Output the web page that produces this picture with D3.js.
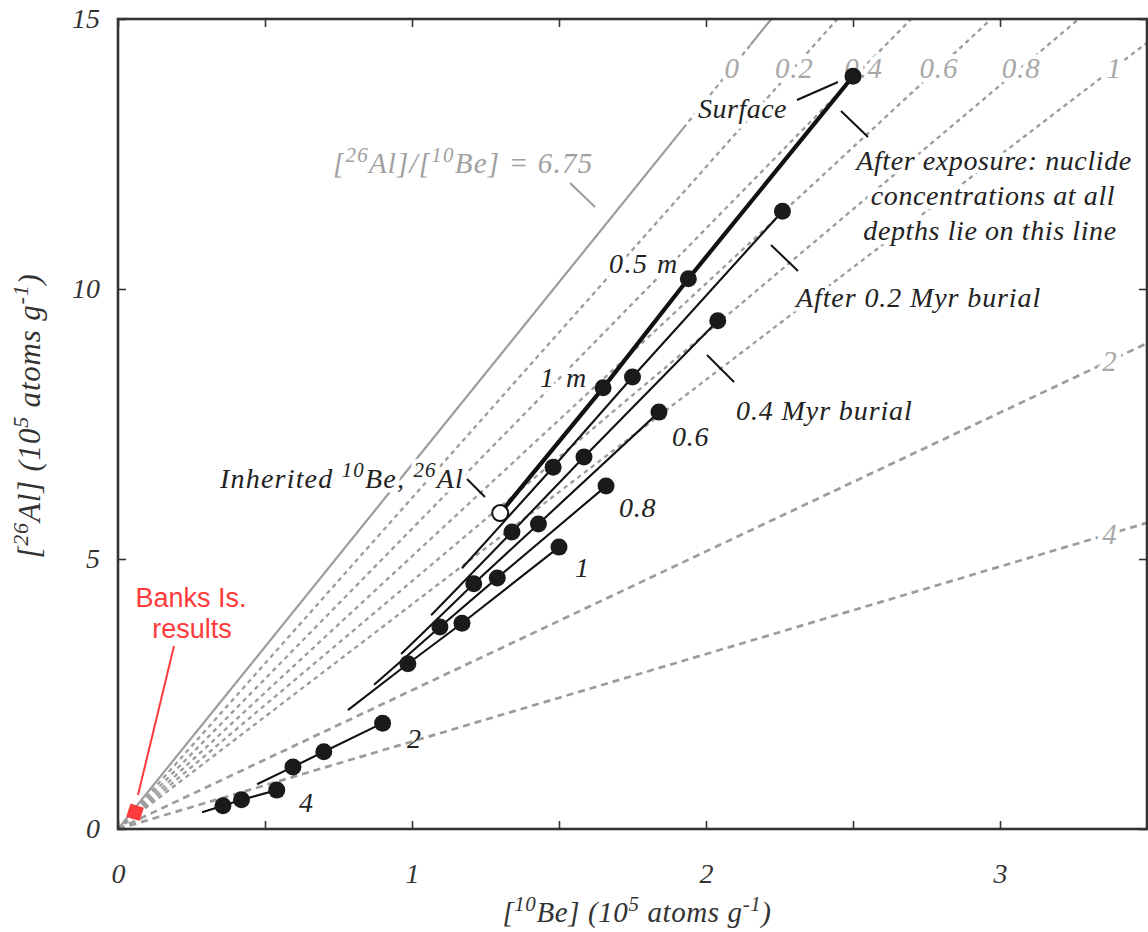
<!DOCTYPE html>
<html><head><meta charset="utf-8">
<script src="https://cdn.jsdelivr.net/npm/d3@7"></script>
<style>body{margin:0;background:#fff}</style>
</head><body><svg id="c" width="1148" height="932"></svg>
<script>
// ---------- data ----------
const xTicks = [0, 0.5, 1, 1.5, 2, 2.5, 3];
const xTickLabels = ["0", "", "1", "", "2", "", "3"];
const yTicks = [0, 5, 10, 15];
const yTickLabels = ["0", "5", "10", "15"];

// burial isochrons: [26Al]/[10Be] ratio after burial of t Myr
const isoLabels = ["0", "0.2", "0.4", "0.6", "0.8", "1", "2", "4"];
const isoRatios = [6.75, 6.13, 5.56, 5.05, 4.59, 4.16, 2.57, 1.62];

// depth profiles: after exposure, then after burial of t Myr
const profileLabels = ["exposure", "0.2", "0.4", "0.6", "0.8", "1", "2", "4"];
const beSurface = [2.50, 2.26, 2.04, 1.84, 1.66, 1.50, 0.90, 0.54];
const alSurface = [13.94, 11.44, 9.41, 7.72, 6.35, 5.22, 1.96, 0.72];
const beHalfM   = [1.94, 1.75, 1.585, 1.43, 1.29, 1.17, 0.70, 0.42];
const alHalfM   = [10.19, 8.37, 6.89, 5.65, 4.65, 3.81, 1.43, 0.54];
const beOneM    = [1.65, 1.48, 1.34, 1.21, 1.095, 0.986, 0.595, 0.357];
const alOneM    = [8.17, 6.70, 5.50, 4.54, 3.74, 3.06, 1.15, 0.43];
const beInherit = [1.30, 1.17, 1.065, 0.963, 0.871, 0.782, 0.473, 0.286];
const alInherit = [5.85, 4.83, 3.96, 3.24, 2.67, 2.20, 0.83, 0.31];

const banksBe = [0.058];
const banksAl = [0.31];

// ---------- setup ----------
const svg = d3.select("#c");
const x = d3.scaleLinear().domain([0, 3.5]).range([118, 1147]);
const y = d3.scaleLinear().domain([0, 15]).range([829, 19]);
const SERIF = "'Liberation Serif','Times New Roman',serif";
const SANS = "'Liberation Sans', Arial, sans-serif";
const GRAY = "#9c9c9c";

svg.append("defs").append("clipPath").attr("id", "clip")
  .append("rect").attr("x", 118).attr("y", 19).attr("width", 1029).attr("height", 810);
const isoLayer = svg.append("g").attr("clip-path", "url(#clip)");
const isoTextLayer = svg.append("g");
const annoLayer = svg.append("g");
const profLayer = svg.append("g").attr("clip-path", "url(#clip)");
const topLayer = svg.append("g");

function rich(sel, parts, supSize, shift) {
  parts.forEach(p => {
    if (p[1]) {
      sel.append("tspan").attr("dy", -shift).attr("font-size", supSize).text(p[0]);
    } else {
      const t = sel.append("tspan").text(p[0]);
      if (p[2]) t.attr("dy", shift);
    }
  });
}
function halo(sel, w) {
  return sel.attr("stroke", "#fff").attr("stroke-width", w)
    .attr("stroke-linejoin", "round").attr("paint-order", "stroke");
}

// ---------- isochrons ----------
const line = d3.line().x(d => x(d[0])).y(d => y(d[1]));
isoRatios.forEach((r, i) => {
  const xe = Math.min(3.5, 15 / r);
  const big = i >= 6;
  if (i === 0) {
    isoLayer.append("path").attr("d", line([[0, 0], [12.98 / r, 12.98]]))
      .attr("stroke", GRAY).attr("stroke-width", 2.2).attr("fill", "none");
    isoLayer.append("path").attr("d", line([[14.52 / r, 14.52], [xe, xe * r]]))
      .attr("stroke", GRAY).attr("stroke-width", 2.2).attr("fill", "none");
    isoLayer.append("path").attr("d", line([[12.98 / r, 12.98], [14.52 / r, 14.52]]))
      .attr("stroke", GRAY).attr("stroke-width", 2.2).attr("stroke-dasharray", "4.5,4").attr("fill", "none");
  } else {
    isoLayer.append("path").attr("d", line([[0, 0], [xe, xe * r]]))
      .attr("stroke", GRAY).attr("stroke-width", big ? 2.7 : 2.3)
      .attr("stroke-dasharray", big ? "7,5" : "4.5,4").attr("fill", "none");
  }
});
isoRatios.forEach((r, i) => {
  let lx, ly;
  if (i < 6) { ly = 14.1; lx = ly / r; }
  else { lx = 3.374; ly = lx * r; }
  halo(isoTextLayer.append("text"), 10)
    .attr("x", x(lx)).attr("y", y(ly)).attr("dy", "0.35em")
    .attr("text-anchor", "middle").attr("font-family", SERIF).attr("font-style", "italic")
    .attr("font-size", 29).attr("letter-spacing", 0.8).attr("fill", "#a8a8a8").text(isoLabels[i]);
});

// ---------- depth profiles ----------
profileLabels.forEach((p, i) => {
  const pts = [[beSurface[i], alSurface[i]], [beHalfM[i], alHalfM[i]], [beOneM[i], alOneM[i]], [beInherit[i], alInherit[i]]];
  profLayer.append("path").attr("d", line(pts)).attr("fill", "none")
    .attr("stroke", "#111").attr("stroke-width", i === 0 ? 4.2 : 2.1);
  pts.slice(0, 3).forEach(d => {
    profLayer.append("circle").attr("cx", x(d[0])).attr("cy", y(d[1])).attr("r", 8.5).attr("fill", "#1a1a1a");
  });
  if (i === 0) {
    profLayer.append("circle").attr("cx", x(beInherit[0])).attr("cy", y(alInherit[0])).attr("r", 8)
      .attr("fill", "#fff").attr("stroke", "#111").attr("stroke-width", 2);
  }
});

banksBe.forEach((b, i) => {
  topLayer.append("rect").attr("x", -7).attr("y", -7).attr("width", 14).attr("height", 14)
    .attr("fill", "#ff3a3a")
    .attr("transform", `translate(${x(b)},${y(banksAl[i])}) rotate(18)`);
});

// ---------- annotations ----------
function label(px, py, parts, opts) {
  opts = opts || {};
  const t = annoLayer.append("text").attr("x", px).attr("y", py)
    .attr("font-family", opts.family || SERIF).attr("font-style", opts.family ? "normal" : "italic")
    .attr("font-size", opts.size || 28).attr("fill", opts.fill || "#222")
    .attr("text-anchor", opts.anchor || "start")
    .attr("letter-spacing", opts.ls == null ? 0.7 : opts.ls);
  if (opts.haloW !== 0) halo(t, opts.haloW || 9);
  if (typeof parts === "string") t.text(parts); else rich(t, parts, opts.sup || 21, opts.shift || 11);
  return t;
}
function leader(x1, y1, x2, y2, col) {
  annoLayer.append("line").attr("x1", x1).attr("y1", y1).attr("x2", x2).attr("y2", y2)
    .attr("stroke", col || "#111").attr("stroke-width", 2);
}

label(333, 173, [["["], ["26", 1], ["Al]/[", 0, 1], ["10", 1], ["Be] = 6.75", 0, 1]], {fill: "#a0a0a0", size: 29, ls: 1.2});
leader(570, 183, 595, 207, GRAY);

label(698, 118, "Surface", {ls: 0.5});
leader(797, 100, 838, 82);

label(994, 170, "After exposure: nuclide", {anchor: "middle", ls: 0.6});
label(993, 205, "concentrations at all", {anchor: "middle", ls: 0.6});
label(990, 240, "depths lie on this line", {anchor: "middle", ls: 0.6});
leader(841, 111, 868, 137);

label(796, 307, "After 0.2 Myr burial", {ls: 0.9});
leader(771, 245, 798, 271);

label(736, 420, "0.4 Myr burial", {ls: 0.9});
leader(707, 355, 734, 382);

label(609, 273, "0.5 m", {ls: 1.5});
label(540, 387, "1 m", {ls: 2.5});

label(220, 488, [["Inherited "], ["10", 1], ["Be, ", 0, 1], ["26", 1], ["Al", 0, 1]], {ls: 1.2});
leader(467, 479, 485, 497);

label(672, 446, "0.6", {haloW: 0});
label(619, 517, "0.8", {haloW: 0});
label(575, 577, "1", {haloW: 0});
label(407, 748, "2", {haloW: 0});
label(299, 812, "4", {haloW: 0});

label(191, 607, "Banks Is.", {family: SANS, size: 27, fill: "#ff3a3a", anchor: "middle", haloW: 0, ls: 0});
label(192, 638, "results", {family: SANS, size: 27, fill: "#ff3a3a", anchor: "middle", haloW: 0, ls: 0});
leader(174, 646, 138, 795, "#ff3a3a");

// ---------- axes & frame ----------
const tickStyle = g => {
  g.select(".domain").remove();
  g.selectAll(".tick line").attr("stroke", "#333").attr("stroke-width", 1.6);
  g.selectAll(".tick text").attr("font-family", SERIF).attr("font-style", "italic")
    .attr("font-size", 28).attr("fill", "#333");
};
topLayer.append("g").attr("transform", "translate(0,829)")
  .call(d3.axisBottom(x).tickValues(xTicks).tickSizeInner(-8).tickSizeOuter(0).tickPadding(34)
    .tickFormat((d, i) => xTickLabels[i])).call(tickStyle);
topLayer.append("g").attr("transform", "translate(0,19)")
  .call(d3.axisTop(x).tickValues(xTicks).tickSizeInner(-8).tickSizeOuter(0).tickFormat(() => ""))
  .call(tickStyle);
topLayer.append("g").attr("transform", "translate(118,0)")
  .call(d3.axisLeft(y).tickValues(yTicks).tickSizeInner(-8).tickSizeOuter(0).tickPadding(18)
    .tickFormat((d, i) => yTickLabels[i])).call(tickStyle);
topLayer.append("g").attr("transform", "translate(1147,0)")
  .call(d3.axisRight(y).tickValues(yTicks).tickSizeInner(-8).tickSizeOuter(0).tickFormat(() => ""))
  .call(tickStyle);

topLayer.append("rect").attr("x", 118).attr("y", 19).attr("width", 1029).attr("height", 810)
  .attr("fill", "none").attr("stroke", "#333").attr("stroke-width", 2.6);

// axis titles
const xt = topLayer.append("text").attr("x", 637).attr("y", 922)
  .attr("text-anchor", "middle").attr("font-family", SERIF).attr("font-style", "italic")
  .attr("font-size", 29).attr("letter-spacing", 0.6).attr("fill", "#333");
rich(xt, [["["], ["10", 1], ["Be] (10", 0, 1], ["5", 1], [" atoms g", 0, 1], ["-1", 1], [")", 0, 1]], 21, 11);
const yt = topLayer.append("text").attr("transform", "translate(40,416) rotate(-90)")
  .attr("text-anchor", "middle").attr("font-family", SERIF).attr("font-style", "italic")
  .attr("font-size", 31).attr("letter-spacing", 0.8).attr("fill", "#333");
rich(yt, [["["], ["26", 1], ["Al] (10", 0, 1], ["5", 1], [" atoms g", 0, 1], ["-1", 1], [")", 0, 1]], 22, 12);
</script>
</body></html>
